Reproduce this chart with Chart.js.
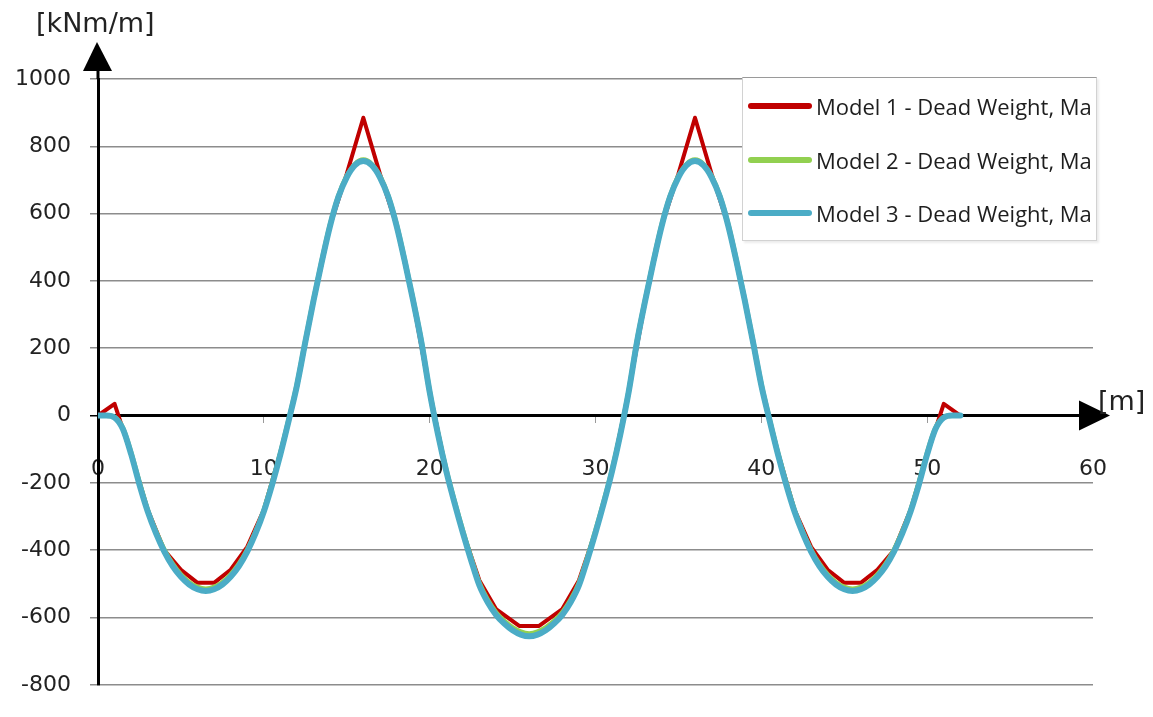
<!DOCTYPE html>
<html>
<head>
<meta charset="utf-8">
<script src="https://cdn.jsdelivr.net/npm/chart.js@4.4.1/dist/chart.umd.min.js"></script>
<style>
  html, body { margin: 0; padding: 0; background: #fff; }
  #wrap { position: relative; width: 1153px; height: 717px; overflow: hidden; }
  #legend {
    position: absolute; left: 742px; top: 77px; width: 353px; height: 162px;
    background: #fff; border: 1px solid #d2d2d2; border-top-color: #9a9a9a;
    box-shadow: 2px 2px 2px rgba(0,0,0,0.08); overflow: hidden;
  }
  .row    { position: absolute; left: 0; width: 100%; height: 30px; }
  .swatch { position: absolute; left: 5px; top: 12px; width: 64px; height: 6px; border-radius: 3px; }
  .label  { position: absolute; left: 73px; top: 0; line-height: 30px; white-space: nowrap;
            font-family: "Open Sans", sans-serif; font-size: 22px; color: #1e1e1e; }
</style>
</head>
<body>
<div id="wrap">
  <canvas id="chart" width="1153" height="717"></canvas>
  <div id="legend"></div>
</div>
<script>
// Data: positions along the beam [m] and bending moments [kNm/m]
const SERIES_NAMES = [
  "Model 1 - Dead Weight, Ma",
  "Model 2 - Dead Weight, Ma",
  "Model 3 - Dead Weight, Ma",
];
const SERIES_COLORS = ["#c00000", "#92d050", "#4bacc6"];

// Model 1 (coarse mesh, straight segments)
const M1_X = [0, 1, 2, 3, 4, 5, 6, 7, 8, 9, 10, 11, 12, 13, 14, 15, 16, 17, 18, 19, 20,
              21, 22, 23, 24, 25.4, 26.6, 28, 29, 30, 31, 32, 33, 34, 35, 36, 37, 38, 39, 40,
              41, 42, 43, 44, 45, 46, 47, 48, 49, 50, 51, 52];
const M1_VALUES = [0, 35, -115, -280, -400, -458, -497, -497, -458, -390, -280, -110, 85, 340, 565, 718, 885, 718, 565, 340, 70,
                   -165, -345, -490, -575, -625, -625, -575, -490, -345, -165, 70, 340, 565, 718, 885, 718, 565, 340, 85,
                   -110, -280, -390, -458, -497, -497, -458, -400, -280, -115, 35, 0];

// Models 2 and 3 (fine mesh)
const XS = [0, 0.5, 1, 1.5, 2, 2.5, 3, 3.5, 4, 4.5, 5, 5.5, 6, 6.5, 7, 7.5, 8, 8.5, 9, 9.5,
            10, 10.5, 11, 11.5, 12, 12.5, 13, 13.5, 14, 14.5, 15, 15.5, 16, 16.5, 17, 17.5, 18, 18.5, 19, 19.5,
            20, 20.5, 21, 21.5, 22, 22.5, 23, 23.5, 24, 24.5, 25, 25.5, 26, 26.5, 27, 27.5, 28, 28.5, 29, 29.5,
            30, 30.5, 31, 31.5, 32, 32.5, 33, 33.5, 34, 34.5, 35, 35.5, 36, 36.5, 37, 37.5, 38, 38.5, 39, 39.5,
            40, 40.5, 41, 41.5, 42, 42.5, 43, 43.5, 44, 44.5, 45, 45.5, 46, 46.5, 47, 47.5, 48, 48.5, 49, 49.5,
            50, 50.5, 51, 51.5, 52];
const M2_VALUES = [0, 0, -5, -38, -112, -200, -282, -345, -399, -441, -473, -496, -510, -515, -510, -496, -473, -441, -399, -345,
                   -282, -200, -112, -13, 92, 220, 344, 460, 567, 652, 711, 747, 760, 747, 711, 652, 567, 460, 344, 220,
                   71, -53, -162, -256, -343, -424, -498, -548, -585, -611, -630, -643, -648, -643, -630, -611, -585, -548, -498, -424,
                   -343, -256, -162, -53, 71, 220, 344, 460, 567, 652, 711, 747, 760, 747, 711, 652, 567, 460, 344, 220,
                   92, -13, -112, -200, -282, -345, -399, -441, -473, -496, -510, -515, -510, -496, -473, -441, -399, -345, -282, -200,
                   -112, -38, -5, 0, 0];
const M3_VALUES = [0, 0, -6, -40, -115, -205, -285, -350, -404, -447, -479, -502, -516, -521, -516, -502, -479, -447, -404, -350,
                   -285, -205, -115, -15, 90, 218, 342, 458, 565, 650, 708, 744, 756, 744, 708, 650, 565, 458, 342, 218,
                   70, -55, -165, -260, -348, -430, -505, -555, -592, -618, -638, -651, -656, -651, -638, -618, -592, -555, -505, -430,
                   -348, -260, -165, -55, 70, 218, 342, 458, 565, 650, 708, 744, 756, 744, 708, 650, 565, 458, 342, 218,
                   90, -15, -115, -205, -285, -350, -404, -447, -479, -502, -516, -521, -516, -502, -479, -447, -404, -350, -285, -205,
                   -115, -40, -6, 0, 0];

const X_MIN = 0, X_MAX = 60, X_STEP = 10;
const Y_MIN = -800, Y_MAX = 1000, Y_STEP = 200;

const TICK_FONT = { family: "DejaVu Sans", size: 22 };
const TEXT_COLOR = "#222";
const GRID_COLOR = "#8c8c8c";

function toPoints(xs, ys) {
  return xs.map(function (x, i) { return { x: x, y: ys[i] }; });
}

// Axis arrows and unit labels
const axisArrows = {
  id: "axisArrows",
  afterDraw(chart) {
    const ctx = chart.ctx;
    const area = chart.chartArea;
    const yZero = chart.scales.y.getPixelForValue(0);
    const xAxis = area.left;

    ctx.save();
    ctx.fillStyle = "#000";
    ctx.strokeStyle = "#000";
    ctx.lineWidth = 3;

    // y axis up to the arrow
    ctx.beginPath();
    ctx.moveTo(xAxis, area.top);
    ctx.lineTo(xAxis, 66);
    ctx.stroke();
    ctx.beginPath();
    ctx.moveTo(xAxis - 1, 42);
    ctx.lineTo(xAxis - 15, 71);
    ctx.lineTo(xAxis + 14, 71);
    ctx.closePath();
    ctx.fill();

    // x axis to the arrow
    ctx.beginPath();
    ctx.moveTo(area.right - 2, yZero);
    ctx.lineTo(1084, yZero);
    ctx.stroke();
    ctx.beginPath();
    ctx.moveTo(1110, yZero);
    ctx.lineTo(1079, yZero - 15);
    ctx.lineTo(1079, yZero + 15);
    ctx.closePath();
    ctx.fill();

    ctx.fillStyle = TEXT_COLOR;
    ctx.font = '27px "DejaVu Sans"';
    ctx.textAlign = "left";
    ctx.textBaseline = "middle";
    ctx.fillText("[kNm/m]", 36, 25);
    ctx.fillText("[m]", 1098, 403);
    ctx.restore();
  }
};

new Chart(document.getElementById("chart"), {
  type: "scatter",
  data: {
    datasets: [
      { label: SERIES_NAMES[2], data: toPoints(XS, M3_VALUES), borderColor: SERIES_COLORS[2], borderWidth: 6,
        showLine: true, pointRadius: 0, cubicInterpolationMode: "monotone", order: 0 },
      { label: SERIES_NAMES[1], data: toPoints(XS, M2_VALUES), borderColor: SERIES_COLORS[1], borderWidth: 5,
        showLine: true, pointRadius: 0, cubicInterpolationMode: "monotone", order: 1 },
      { label: SERIES_NAMES[0], data: toPoints(M1_X, M1_VALUES), borderColor: SERIES_COLORS[0], borderWidth: 4,
        showLine: true, pointRadius: 0, tension: 0, order: 2 },
    ],
  },
  options: {
    responsive: false,
    animation: false,
    devicePixelRatio: 1,
    layout: { padding: { left: 0, top: 79, right: 60, bottom: 13 } },
    elements: { line: { borderJoinStyle: "round", borderCapStyle: "round" } },
    plugins: {
      legend: { display: false },
      tooltip: { enabled: false },
    },
    scales: {
      x: {
        type: "linear",
        position: { y: 0 },
        min: X_MIN, max: X_MAX,
        ticks: { stepSize: X_STEP, font: TICK_FONT, color: TEXT_COLOR, padding: 35, maxRotation: 0,
                 callback: function (v) { return String(v); } },
        grid: { drawOnChartArea: false, drawTicks: true, tickLength: 6, color: "#9a9a9a", lineWidth: 1 },
        border: { display: true, color: "#000", width: 3 },
      },
      y: {
        type: "linear",
        position: "left",
        min: Y_MIN, max: Y_MAX,
        afterFit: function (scale) { scale.width = 98; },
        ticks: { stepSize: Y_STEP, font: TICK_FONT, color: TEXT_COLOR, padding: 19,
                 callback: function (v) { return String(v); } },
        grid: {
          tickLength: 8,
          lineWidth: 1.5,
          color: function (c) { return c.tick && c.tick.value === 0 ? "#000" : GRID_COLOR; },
        },
        border: { display: true, color: "#000", width: 3 },
      },
    },
  },
  plugins: [axisArrows],
});

// Legend box (drawn as HTML over the chart area)
const legendEl = document.getElementById("legend");
const ROW_TOPS = [13, 67, 120];
SERIES_NAMES.forEach(function (name, i) {
  const row = document.createElement("div");
  row.className = "row";
  row.style.top = ROW_TOPS[i] + "px";
  row.innerHTML = '<div class="swatch" style="background:' + SERIES_COLORS[i] + '"></div>' +
                  '<div class="label">' + name + '</div>';
  legendEl.appendChild(row);
});
</script>
</body>
</html>
